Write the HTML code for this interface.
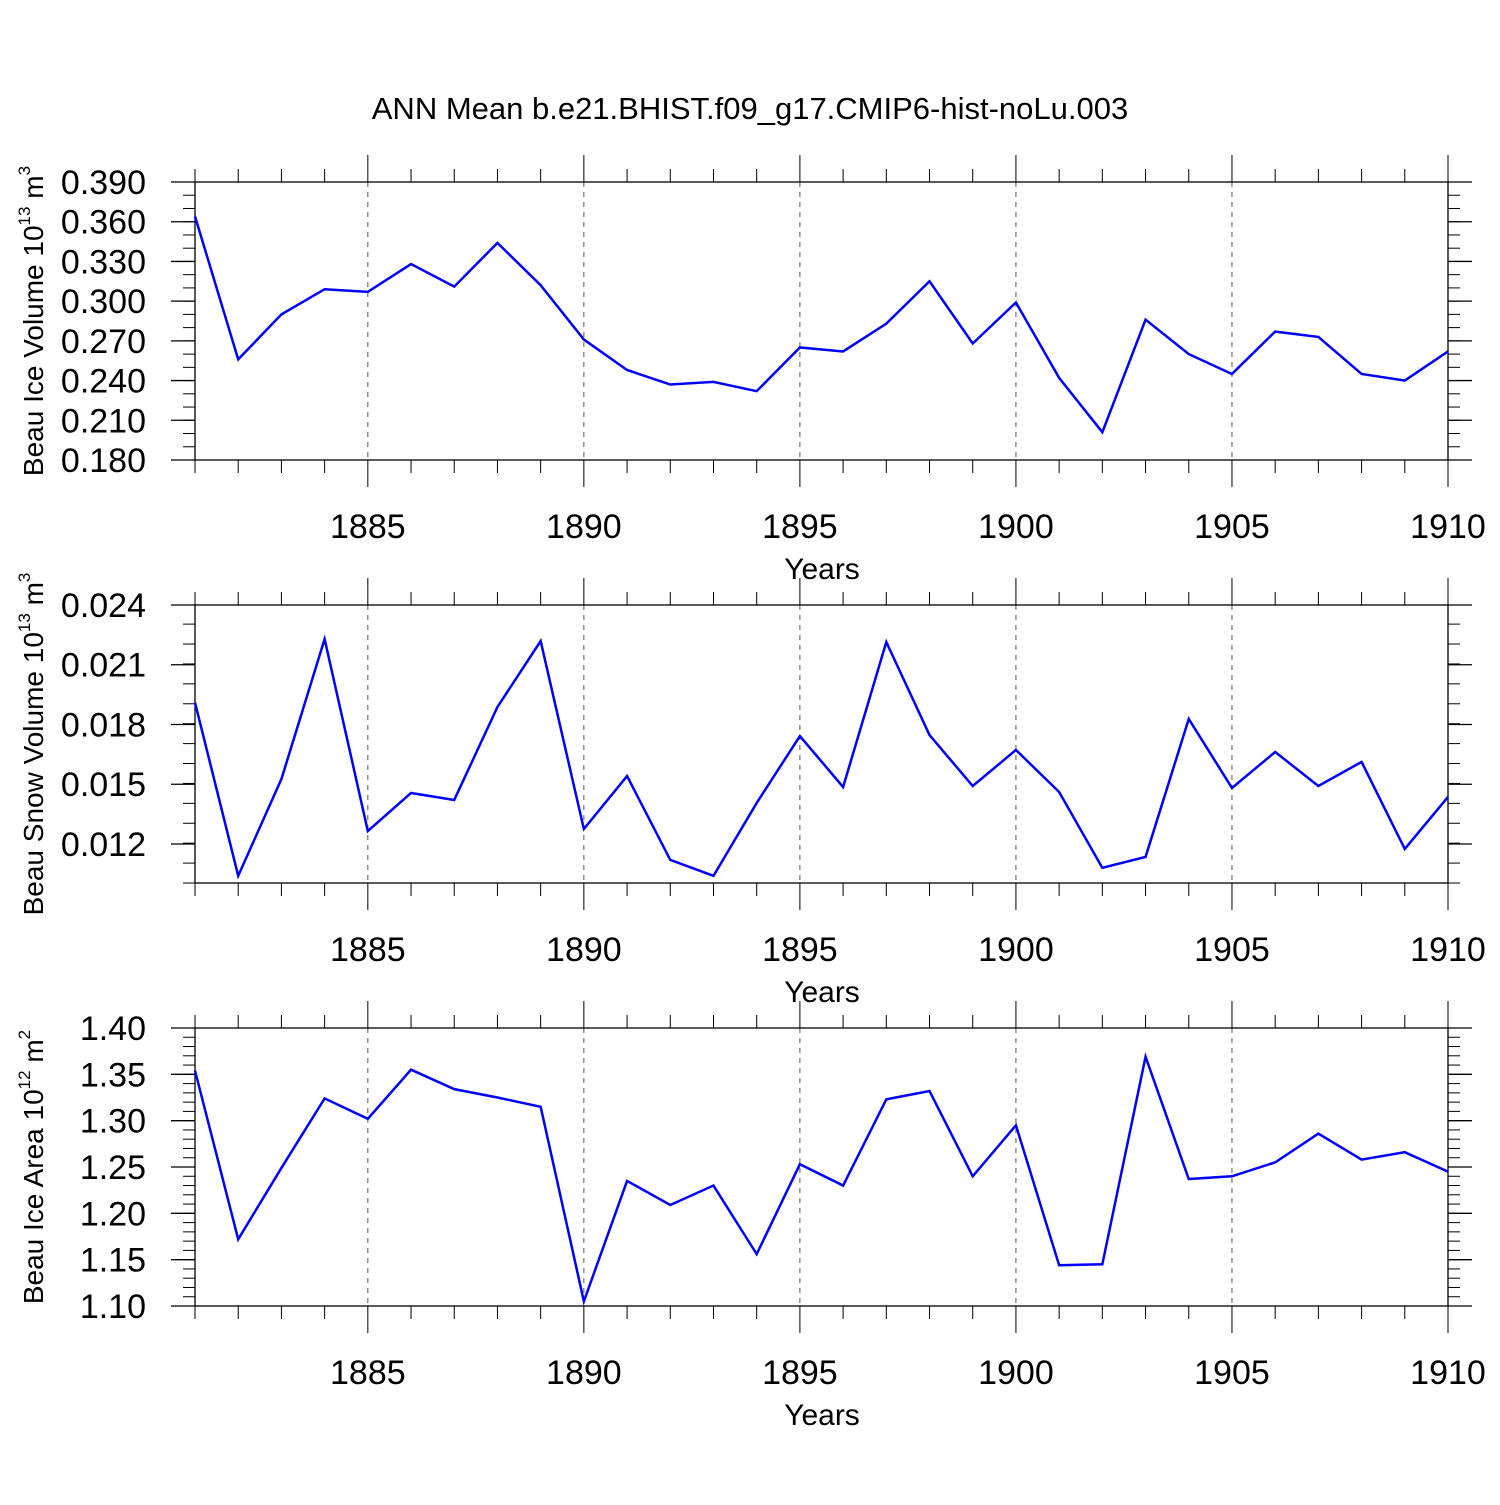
<!DOCTYPE html>
<html><head><meta charset="utf-8"><style>
body{margin:0;background:#fff;}
svg text{font-family:"Liberation Sans",Arial,sans-serif;fill:#000;}
</style></head><body>
<svg id="c" width="1500" height="1500" xmlns="http://www.w3.org/2000/svg">
<text x="750" y="119" font-size="31" text-anchor="middle">ANN Mean b.e21.BHIST.f09_g17.CMIP6-hist-noLu.003</text>
</svg>
<script>
const years=[];for(let y=1881;y<=1910;y++)years.push(y);
const xTickLabels=["1885","1890","1895","1900","1905","1910"];
const iceVolume=[0.364,0.256,0.290,0.309,0.307,0.328,0.311,0.344,0.312,0.271,0.248,0.237,0.239,0.232,0.265,0.262,0.283,0.315,0.268,0.299,0.242,0.201,0.286,0.260,0.245,0.277,0.273,0.245,0.240,0.262];
const snowVolume=[0.0191,0.0104,0.01526,0.02229,0.01265,0.01456,0.01421,0.01888,0.02219,0.01275,0.01541,0.0112,0.0104,0.01406,0.01742,0.01486,0.02214,0.01747,0.01491,0.01672,0.01461,0.0108,0.01135,0.01828,0.01481,0.01662,0.01491,0.01612,0.01175,0.01436];
const iceArea=[1.354,1.172,1.249,1.324,1.302,1.355,1.334,1.325,1.315,1.105,1.235,1.209,1.230,1.156,1.253,1.230,1.323,1.332,1.240,1.295,1.144,1.145,1.369,1.237,1.240,1.255,1.286,1.258,1.266,1.245];
const iceVolTicks=["0.390","0.360","0.330","0.300","0.270","0.240","0.210","0.180"];
const snowTicks=["0.024","0.021","0.018","0.015","0.012"];
const areaTicks=["1.40","1.35","1.30","1.25","1.20","1.15","1.10"];

const svg=document.getElementById('c');const NS="http://www.w3.org/2000/svg";
function mk(t,a,p){const e=document.createElementNS(NS,t);for(const k in a)e.setAttribute(k,a[k]);(p||svg).appendChild(e);return e;}
const X0=195,X1=1448;
function xs(yr){return X0+(yr-1881)/(1910-1881)*(X1-X0);}

function panel(name,top,bot,ymin,ymax,data,ticks,minorStep,title,sup,unit){
  const g=mk('g',{});
  
  
  const ys=v=>bot-(v-ymin)/(ymax-ymin)*(bot-top);
  xTickLabels.forEach(l=>{const x=xs(+l);if(+l<1910){const gl=mk('line',{x1:x,x2:x,y1:top,y2:bot,stroke:'#555','stroke-width':1,'stroke-dasharray':'5,5'},g);
    
    }});
  const n=Math.round((ymax-ymin)/minorStep);
  for(let i=0;i<=n;i++){const v=ymin+i*minorStep;if(v<ymin-1e-9||v>ymax+1e-9)continue;const y=ys(v);
    mk('line',{x1:X0-12,x2:X0,y1:y,y2:y,stroke:'#000','stroke-width':1},g);
    mk('line',{x1:X1,x2:X1+12,y1:y,y2:y,stroke:'#000','stroke-width':1},g);}
  ticks.forEach(t=>{const y=ys(+t);
    mk('line',{x1:X0-24,x2:X0,y1:y,y2:y,stroke:'#000','stroke-width':1.3},g);
    mk('line',{x1:X1,x2:X1+24,y1:y,y2:y,stroke:'#000','stroke-width':1.3},g);
    const tx=mk('text',{x:146,y:y+12,'font-size':34,'text-anchor':'end'},g);tx.textContent=t;
    
    });
  years.forEach(yr=>{const x=xs(yr);const maj=yr%5==0;const L=maj?27:13;
    mk('line',{x1:x,x2:x,y1:top-L,y2:top,stroke:'#000','stroke-width':1},g);
    mk('line',{x1:x,x2:x,y1:bot,y2:bot+L,stroke:'#000','stroke-width':1},g);});
  xTickLabels.forEach(l=>{const t=mk('text',{x:xs(+l),y:bot+78,'font-size':34,'text-anchor':'middle'},g);t.textContent=l;
    
    });
  const xt=mk('text',{x:822,y:bot+119,'font-size':30,'text-anchor':'middle'},g);xt.textContent='Years';
  
  
  const fr=mk('rect',{x:X0,y:top,width:X1-X0,height:bot-top,fill:'none',stroke:'#000','stroke-width':1.3},g);
  
  
  const pl=mk('polyline',{points:data.map((v,i)=>xs(years[i])+','+ys(v)).join(' '),fill:'none',stroke:'#0000ff','stroke-width':2.5,'stroke-linejoin':'miter'},g);
  
  
  const cy=(top+bot)/2;
  const yt=mk('text',{x:0,y:0,'font-size':28,'text-anchor':'middle',transform:`translate(43,${cy}) rotate(-90)`},g);
  
  
  const s1=document.createElementNS(NS,'tspan');s1.textContent=title+' 10';yt.appendChild(s1);
  const s2=document.createElementNS(NS,'tspan');s2.setAttribute('font-size','17');s2.setAttribute('dy','-13');s2.textContent=sup;yt.appendChild(s2);
  const s3=document.createElementNS(NS,'tspan');s3.setAttribute('dy','13');s3.textContent=' m';yt.appendChild(s3);
  const s4=document.createElementNS(NS,'tspan');s4.setAttribute('font-size','17');s4.setAttribute('dy','-13');s4.textContent=unit;yt.appendChild(s4);
}
panel('ice-volume',182,460,0.180,0.390,iceVolume,iceVolTicks,0.01,'Beau Ice Volume','13','3');
panel('snow-volume',605,883,0.01004,0.024,snowVolume,snowTicks,0.001,'Beau Snow Volume','13','3');
panel('ice-area',1028,1306,1.10,1.40,iceArea,areaTicks,0.01,'Beau Ice Area','12','2');
</script>
</body></html>
